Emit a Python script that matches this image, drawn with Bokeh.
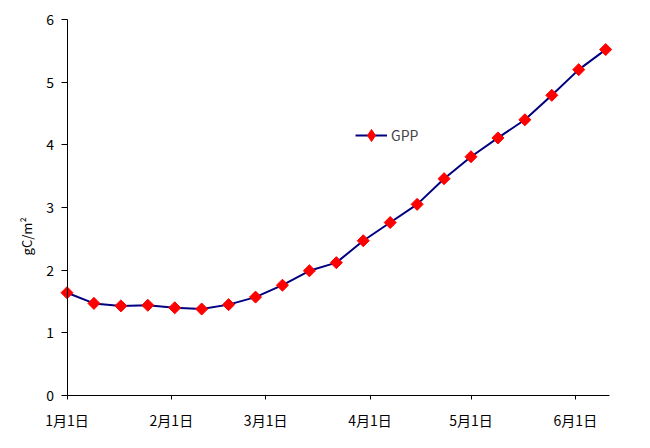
import math
from bokeh.plotting import figure
from bokeh.models import Range1d, FixedTicker, Legend, LegendItem, Label
from bokeh.embed import file_html
from bokeh.resources import INLINE

# 8-day composite periods, as day offsets from Jan 1
day_offsets = [0, 8, 16, 24, 32, 40, 48, 56, 64, 72, 80, 88, 96, 104, 112, 120, 128, 136, 144, 152, 160]
gpp = [1.64, 1.47, 1.43, 1.44, 1.40, 1.38, 1.45, 1.57, 1.76, 1.99, 2.12,
       2.47, 2.76, 3.05, 3.46, 3.81, 4.11, 4.40, 4.79, 5.20, 5.52]

x_tick_days = [0, 31, 59, 90, 120, 151]
x_tick_labels = ["1月1日", "2月1日", "3月1日", "4月1日", "5月1日", "6月1日"]
y_ticks = [0, 1, 2, 3, 4, 5, 6]
x_end = 161
y_end = 6

FONT = "Noto Sans CJK SC"

p = figure(width=634, height=432, output_backend="svg", toolbar_location=None,
           x_range=Range1d(-15, x_end + 4), y_range=Range1d(-0.5904, 6.2234),
           min_border_left=16, min_border_right=12, min_border_top=5, min_border_bottom=0)
p.outline_line_color = None
p.xgrid.visible = False
p.ygrid.visible = False
p.background_fill_color = "white"
p.border_fill_color = "white"

ln = p.line(day_offsets, gpp, line_color="#000080", line_width=2)
# diamond used for the legend key (hidden beneath the data markers)
key = p.scatter(day_offsets, gpp, marker="diamond", size=10,
                fill_color="#FF0000", line_color="#FF0000")
sc = p.scatter(day_offsets, gpp, marker="square", size=8.5, angle=math.pi / 4,
               fill_color="#FF0000", line_color="#FF0000")

p.xaxis.ticker = FixedTicker(ticks=x_tick_days)
p.xaxis.major_label_overrides = {d: l for d, l in zip(x_tick_days, x_tick_labels)}
p.xaxis.bounds = (0, x_end)
p.xaxis.fixed_location = 0
p.yaxis.ticker = FixedTicker(ticks=y_ticks)
p.yaxis.bounds = (0, y_end)
p.yaxis.fixed_location = 0

for ax in (p.xaxis[0], p.yaxis[0]):
    ax.axis_line_color = "black"
    ax.axis_line_width = 1
    ax.major_tick_line_color = "black"
    ax.major_tick_in = 0
    ax.minor_tick_line_color = None
    ax.major_label_text_font = FONT
    ax.major_label_text_font_size = "14px"
    ax.major_label_text_color = "black"
p.xaxis.major_tick_out = 4
p.xaxis.major_label_standoff = 10
p.yaxis.major_tick_out = 6
p.yaxis.major_label_standoff = 7

ylab = Label(x=0, y=2.54, x_offset=-41, text="gC/m²", angle=math.pi / 2,
             text_align="center", text_baseline="middle",
             text_font=FONT, text_font_size="13px", text_color="black")
p.add_layout(ylab)

legend = Legend(items=[LegendItem(label="GPP", renderers=[ln, key])],
                location=(339, 282), border_line_color=None,
                background_fill_alpha=0, padding=0, margin=0,
                glyph_width=32, glyph_height=30, label_height=30,
                label_standoff=4, label_text_font=FONT, label_text_font_size="14px")
p.add_layout(legend, "center")

open("out.html", "w").write(file_html(p, INLINE))
